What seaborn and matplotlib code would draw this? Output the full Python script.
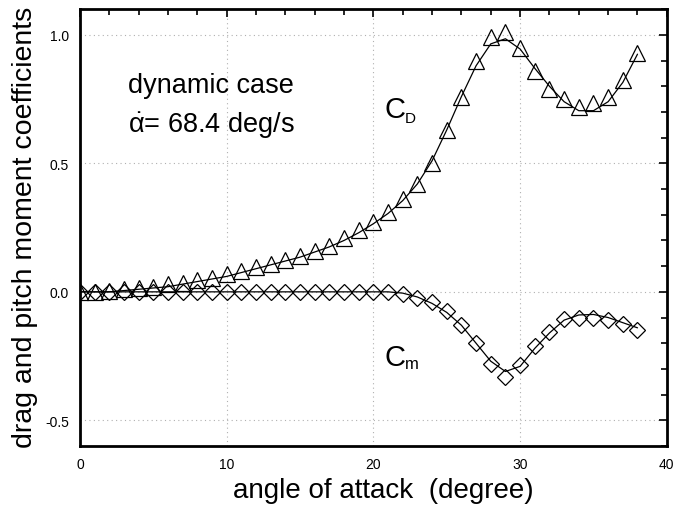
import numpy as np
import pandas as pd
import matplotlib
matplotlib.use("Agg")
import matplotlib.pyplot as plt
import seaborn as sns
from matplotlib.ticker import MultipleLocator, FuncFormatter

sns.set_style("white")
plt.rcParams['font.family'] = ['Liberation Sans', 'DejaVu Sans']
plt.rcParams['mathtext.fontset'] = 'custom'
plt.rcParams['mathtext.rm'] = 'Liberation Sans'
plt.rcParams['mathtext.it'] = 'Liberation Sans:italic'
for k in ['text.color', 'axes.labelcolor', 'xtick.color', 'ytick.color']:
    plt.rcParams[k] = 'black'

angle = list(range(0, 39))

cd_points = [0.0, 0.0, 0.005, 0.01, 0.015, 0.02, 0.03, 0.035, 0.045, 0.055,
             0.07, 0.08, 0.095, 0.11, 0.125, 0.14, 0.16, 0.18, 0.21, 0.24,
             0.27, 0.31, 0.36, 0.42, 0.50, 0.63, 0.76, 0.90, 0.99, 1.01,
             0.95, 0.86, 0.79, 0.75, 0.72, 0.735, 0.76, 0.825, 0.93]
cd_fit = [0.0, 0.0, 0.0, 0.005, 0.01, 0.015, 0.02, 0.03, 0.04, 0.05,
          0.06, 0.075, 0.09, 0.105, 0.12, 0.135, 0.155, 0.175, 0.20, 0.23,
          0.265, 0.305, 0.355, 0.42, 0.51, 0.63, 0.76, 0.88, 0.965, 0.985,
          0.945, 0.87, 0.80, 0.74, 0.705, 0.705, 0.74, 0.815, 0.925]

cm_points = [0.0] * 22 + [-0.01, -0.025, -0.04, -0.075, -0.13, -0.20, -0.28,
                          -0.33, -0.285, -0.21, -0.155, -0.105, -0.10, -0.10,
                          -0.11, -0.125, -0.15]
cm_fit = [0.0] * 22 + [-0.005, -0.02, -0.045, -0.08, -0.13, -0.20, -0.27,
                       -0.31, -0.29, -0.22, -0.16, -0.11, -0.09, -0.088,
                       -0.10, -0.12, -0.14]

df = pd.DataFrame({"angle": angle, "cd": cd_points, "cdfit": cd_fit,
                   "cm": cm_points, "cmfit": cm_fit})

fig = plt.figure(figsize=(6.77, 5.10), dpi=100)
ax = fig.add_axes([0.118, 0.1235, 0.867, 0.8565])

sns.lineplot(data=df, x="angle", y="cdfit", ax=ax, color="black", lw=0.9)
sns.lineplot(data=df, x="angle", y="cmfit", ax=ax, color="black", lw=0.9)
sns.lineplot(data=df, x="angle", y="cd", ax=ax, marker="^", linestyle="none",
             markersize=11, markerfacecolor="none", markeredgecolor="black",
             markeredgewidth=0.9, color="black")
sns.lineplot(data=df, x="angle", y="cm", ax=ax, marker="D", linestyle="none",
             markersize=8.5, markerfacecolor="none", markeredgecolor="black",
             markeredgewidth=0.9, color="black")

ax.set_xlim(0, 40)
ax.set_ylim(-0.6, 1.1)
ax.xaxis.set_major_locator(MultipleLocator(10))
ax.xaxis.set_minor_locator(MultipleLocator(2))
ax.yaxis.set_major_locator(MultipleLocator(0.5))
ax.yaxis.set_minor_locator(MultipleLocator(0.1))
ax.xaxis.set_major_formatter(FuncFormatter(lambda v, p: f"{v:.0f}"))
ax.yaxis.set_major_formatter(FuncFormatter(lambda v, p: f"{v:.1f}"))
ax.tick_params(which="both", direction="in", top=True, right=True,
               labelsize=10, width=1.2, color="black", labelcolor="black")
ax.tick_params(which="major", length=6, pad=8)
ax.tick_params(which="minor", length=4)
ax.grid(True, which="major", linestyle=(0, (1, 3)), color="#b0b0b0", lw=0.8)
for s in ax.spines.values():
    s.set_linewidth(2)
    s.set_color("black")

ax.set_xlabel("angle of attack  (degree)", fontsize=20)
ax.xaxis.label.set_va("baseline")
ax.xaxis.set_label_coords(0.517, -0.1167)
ax.set_ylabel("drag and pitch moment coefficients", fontsize=20.5)
ax.yaxis.label.set_va("center")
ax.yaxis.set_label_coords(-0.094, 0.503)

ax.text(3.25, 0.778, "dynamic case", fontsize=19.5, ha="left", va="baseline")
ax.text(3.25, 0.623, r"$\dot{\mathrm{\alpha}}$= 68.4 deg/s", fontsize=19.5,
        ha="left", va="baseline")
ax.text(20.77, 0.681, "C", fontsize=21, ha="left", va="baseline")
ax.text(22.13, 0.661, "D", fontsize=11, ha="left", va="baseline")
ax.text(20.77, -0.284, "C", fontsize=21, ha="left", va="baseline")
ax.text(22.13, -0.296, "m", fontsize=12, ha="left", va="baseline")

fig.savefig("out.png", dpi=100)
